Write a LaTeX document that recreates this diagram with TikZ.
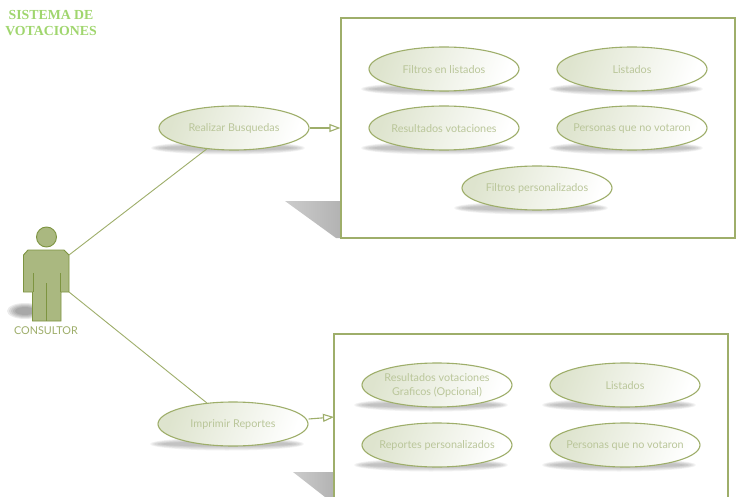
\documentclass[tikz,border=0pt]{standalone}
\usepackage{fontspec}
\setmainfont{Lato}
\newfontfamily\titlefont{Liberation Serif}
\usepackage{tikz}
\usetikzlibrary{arrows.meta, positioning, calc, shapes.geometric, fadings}
\definecolor{mainline}{RGB}{158, 174, 106}
\definecolor{usecasetext}{RGB}{186, 198, 154}
\definecolor{usecaseshade}{RGB}{222, 228, 206}
\definecolor{actorfill}{RGB}{170, 184, 128}
\definecolor{actorline}{RGB}{125, 148, 64}
\definecolor{titlegreen}{RGB}{160, 214, 110}
\tikzset{
  usecase/.style={ellipse, draw=mainline, line width=1.1pt, minimum width=150pt, minimum height=44pt,
    inner sep=-20pt, left color=usecaseshade, middle color=white, right color=white,
    shading angle=70, text=usecasetext, font=\fontsize{10.8}{15}\selectfont},
  groundshadow/.style={fill=black, opacity=0.05, draw=none},
  systembox/.style={draw=mainline, line width=1.2pt, fill=white, minimum width=394pt, inner sep=0pt},
  boxshadow/.style={left color=black!20, right color=black!30, draw=none},
  link/.style={draw=mainline, line width=0.9pt},
  extend/.style={link, line width=1.1pt, -{Triangle[open, length=11pt, width=8pt, fill=white]}}
}
\begin{document}
\begin{tikzpicture}[x=1pt, y=-1pt, >=Stealth]
  \clip (0,0) rectangle (741,497);
  \fill[white] (0,0) rectangle (741,497);

  % Title
  \node[font=\titlefont\bfseries\fontsize{13.8}{16}\selectfont, text=titlegreen, align=center] (title) at (51,23) {SISTEMA DE\\VOTACIONES};

  % Shadows behind the boxes
  \shade[boxshadow] (285,201) -- (341,201) -- (341,238) -- (336,238) -- cycle;
  \shade[boxshadow] (293,472) -- (334,472) -- (334,497) -- (325,497) -- cycle;

  % Boxes
  \node[systembox, minimum height=220pt] (boxBusquedas) at (538,128) {};
  \node[systembox, minimum height=220pt] (boxReportes) at (531,444) {};

  % Use cases
  \foreach \name/\x/\y/\txt in {
    filtros/444/69/Filtros en listados,
    listadosA/632/69/Listados,
    resultadosA/444/128/Resultados votaciones,
    personasA/632/128/Personas que no votaron,
    personalizados/537/188/Filtros personalizados,
    realizar/234/128/Realizar Busquedas,
    imprimir/233/424/Imprimir Reportes,
    resultadosB/437/385/{\shortstack{Resultados votaciones\\[2pt]Graficos (Opcional)}},
    listadosB/625/385/Listados,
    reportes/437/445/Reportes personalizados,
    personasB/625/445/Personas que no votaron}
  {
    \foreach \rx/\ry in {77/6.5, 75/5.5, 73/4.5, 70/3.5, 66/2.5}
      \fill[groundshadow] (\x-6,\y+20) ellipse ({\rx} and {\ry});
    \node[usecase] (\name) at (\x,\y) {\raisebox{0pt}[\dimexpr\height+1pt\relax]{\txt}};
  }

  % Actor
  \foreach \rx/\ry in {18/8, 16/7, 14/6, 12/5, 10/4}
    \fill[groundshadow, opacity=0.08] (25,311) ellipse ({\rx} and {\ry});
  \draw[actorline, fill=actorfill, line width=0.9pt] (46.5,237) circle (10);
  \draw[actorline, fill=actorfill, line width=0.9pt]
    (23.5,255) -- (28,250) -- (64,250) -- (69,255) -- (69,292) -- (61,292) -- (61,321)
    -- (32.5,321) -- (32.5,292) -- (23.5,292) -- cycle;
  \draw[actorline, line width=0.9pt] (33,273) -- (33,292) (60.5,273) -- (60.5,292) (46.5,283) -- (46.5,321);
  \node[text=mainline, font=\fontsize{10.8}{12}\selectfont] (consultor) at (46,331) {CONSULTOR};
  \coordinate (actorTop) at (69,255);
  \coordinate (actorBot) at (69,292);
  \coordinate (tipReportes) at (334,417);

  % Connectors
  \draw[link] (actorTop) -- (realizar);
  \draw[link] (actorBot) -- (imprimir);
  \draw[extend] (realizar.east) -- (realizar.east -| boxBusquedas.west);
  \draw[extend] (imprimir.east) ++(0,-5) -- (tipReportes);
\end{tikzpicture}
\end{document}
